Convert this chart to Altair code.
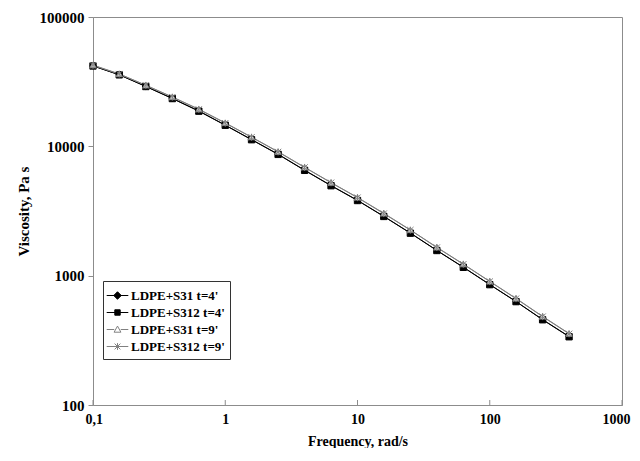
import altair as alt
import pandas as pd

freq = [0.1, 0.158, 0.251, 0.398, 0.631, 1.0, 1.58, 2.51, 3.98, 6.31,
        10.0, 15.8, 25.1, 39.8, 63.1, 100.0, 158.0, 251.0, 398.0]
s31_t4 = [42000, 35800, 29100, 23500, 18800, 14600, 11300, 8700, 6550, 4980,
          3830, 2880, 2140, 1570, 1165, 855, 632, 458, 339]
s312_t4 = [41800, 35700, 29000, 23400, 18700, 14550, 11250, 8660, 6520, 4960,
           3810, 2870, 2130, 1565, 1160, 852, 630, 456, 337]
s31_t9 = [42500, 36300, 29700, 24100, 19400, 15200, 11800, 9100, 6900, 5250,
          4030, 3040, 2260, 1660, 1230, 905, 668, 485, 357]
s312_t9 = [42300, 36200, 29600, 24000, 19300, 15100, 11750, 9050, 6870, 5230,
           4010, 3020, 2250, 1650, 1225, 900, 664, 482, 355]

series_names = ["LDPE+S31 t=4'", "LDPE+S312 t=4'", "LDPE+S31 t=9'", "LDPE+S312 t=9'"]
x_tick_values = [0.1, 1, 10, 100, 1000]
y_tick_values = [100, 1000, 10000, 100000]

rows = []
for name, vals in zip(series_names, [s31_t4, s312_t4, s31_t9, s312_t9]):
    for f, v in zip(freq, vals):
        rows.append({"freq": f, "visc": v, "series": name})
df = pd.DataFrame(rows)
ticks_df = pd.DataFrame({"freq": x_tick_values})

FONT = "Liberation Serif"
GRAY = "#808080"
AX = "#8c8c8c"
W, H = 529, 388

stroke_range = ["#000000", "#000000", GRAY, GRAY]
fill_range = ["#000000", "#000000", "#ffffff", GRAY]
star = "M-1,-1L1,1M-1,1L1,-1M0,-1.1V1.1"
point_shapes = ["diamond", "square", "triangle-up", star]
legend_shapes = [
    "M-1.2,0H1.2M0,-0.42L0.42,0L0,0.42L-0.42,0Z",
    "M-1.2,0H1.2M-0.3,-0.3H0.3V0.3H-0.3Z",
    "M-1.2,0H-0.36M0.36,0H1.2M0,-0.38L0.38,0.3L-0.38,0.3Z",
    "M-1.2,0H1.2M-0.32,-0.32L0.32,0.32M-0.32,0.32L0.32,-0.32M0,-0.38V0.38",
]

xs = alt.Scale(type="log", domain=[0.1, 1000], nice=False)
ys = alt.Scale(type="log", domain=[100, 100000], nice=False)

x_enc = alt.X("freq:Q", scale=xs, axis=alt.Axis(
    values=x_tick_values, ticks=False, grid=False,
    labelExpr="datum.value == 0.1 ? '0,1' : format(datum.value, 'd')",
    labelPadding=7, labelFont=FONT, labelFontSize=14, labelFontWeight="bold",
    labelColor="#000", labelFlush=True, labelFlushOffset=8, domainColor=AX,
    title="Frequency, rad/s", titleFont=FONT, titleFontSize=14,
    titleFontWeight="bold", titleColor="#000", titlePadding=8))
y_enc = alt.Y("visc:Q", scale=ys, axis=alt.Axis(
    values=y_tick_values, format="d", grid=False, tickSize=5, tickColor=AX,
    domainColor=AX, labelPadding=4, labelFont=FONT, labelFontSize=15,
    labelFontWeight="bold", labelColor="#000",
    title="Viscosity, Pa s", titleFont=FONT, titleFontSize=15,
    titleFontWeight="bold", titleColor="#000", titlePadding=8))

dom = series_names

lines = alt.Chart(df).mark_line(strokeWidth=1).encode(
    x=x_enc, y=y_enc,
    stroke=alt.Stroke("series:N", scale=alt.Scale(domain=dom, range=stroke_range), legend=None),
    detail="series:N",
)

points = alt.Chart(df).mark_point(size=40, strokeWidth=1, opacity=1).encode(
    x=x_enc, y=y_enc,
    shape=alt.Shape("series:N", scale=alt.Scale(domain=dom, range=point_shapes), legend=None),
    stroke=alt.Stroke("series:N", scale=alt.Scale(domain=dom, range=stroke_range), legend=None),
    fill=alt.Fill("series:N", scale=alt.Scale(domain=dom, range=fill_range), legend=None),
)

def leg():
    return alt.Legend(
        title=None, orient="none", legendX=10, legendY=264,
        labelFont=FONT, labelFontSize=13, labelFontWeight="bold", labelColor="#000",
        symbolSize=324, symbolStrokeWidth=1, symbolOpacity=1,
        rowPadding=0, padding=5, labelOffset=4,
        strokeColor="#333", fillColor="#ffffff",
    )

legend_layer = alt.Chart(df).mark_point(opacity=0, strokeWidth=1).encode(
    x=x_enc, y=y_enc,
    shape=alt.Shape("series:N", scale=alt.Scale(domain=dom, range=legend_shapes), legend=leg(), sort=dom),
    stroke=alt.Stroke("series:N", scale=alt.Scale(domain=dom, range=stroke_range), legend=leg(), sort=dom),
    fill=alt.Fill("series:N", scale=alt.Scale(domain=dom, range=fill_range), legend=leg(), sort=dom),
)

tick_rules = alt.Chart(ticks_df).mark_rule(color=AX, strokeWidth=1).encode(
    x=alt.X("freq:Q", scale=xs),
    y=alt.value(H - 5),
    y2=alt.value(H),
)

chart = alt.layer(lines, points, legend_layer, tick_rules).resolve_scale(
    shape="independent", stroke="independent", fill="independent"
).properties(
    width=W, height=H,
    autosize=alt.AutoSizeParams(type="none"),
    padding={"left": 85, "top": 9, "right": 10, "bottom": 43},
    background="white",
).configure_view(stroke=AX, strokeWidth=1)

chart.save("out.html", embed_options={"renderer": "svg", "actions": False})
